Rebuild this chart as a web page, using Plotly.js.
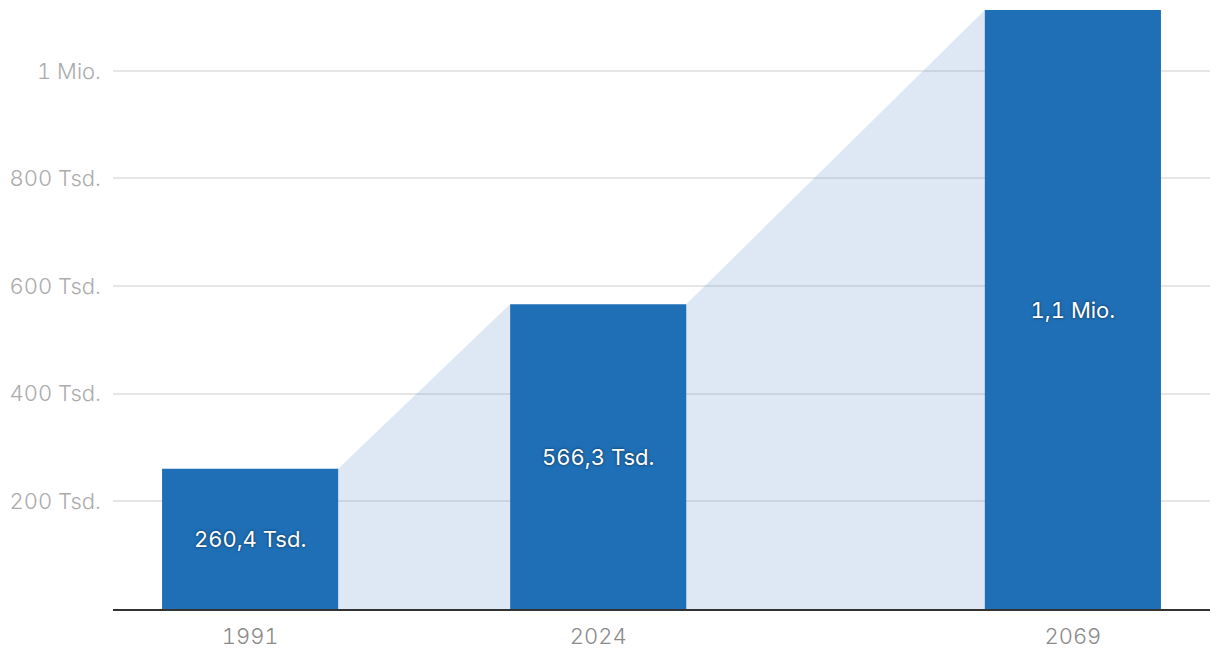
<!DOCTYPE html>
<html>
<head>
<meta charset="utf-8">
<script src="https://cdn.plot.ly/plotly-3.0.1.min.js"></script>
<style>
html,body{margin:0;padding:0;background:#fff;}
#chart{width:1220px;height:668px;}
#chart svg text{font-feature-settings:"tnum" 1;font-variant-numeric:tabular-nums;}
</style>
</head>
<body>
<div id="chart"></div>
<script>
const years = [1991, 2024, 2069];
const values = [260400, 566300, 1113000];
const barLabels = ['260,4 Tsd.', '566,3 Tsd.', '1,1 Mio.'];
const yTickVals = [200000, 400000, 600000, 800000, 1000000];
const yTickText = ['200 Tsd.', '400 Tsd.', '600 Tsd.', '800 Tsd.', '1 Mio.'];
const xTickText = ['1991', '2024', '2069'];

const barWidth = 16.7;
const hw = barWidth / 2;

const font = 'Inter, "Liberation Sans", Arial, sans-serif';

// Connecting areas in the gaps between consecutive bars
const traces = [];
for (let i = 0; i < years.length - 1; i++) {
  traces.push({
    type: 'scatter',
    mode: 'lines',
    x: [years[i] + hw, years[i + 1] - hw],
    y: [values[i], values[i + 1]],
    fill: 'tozeroy',
    fillcolor: 'rgba(85,140,200,0.2)',
    line: {width: 0, color: 'rgba(0,0,0,0)'},
    hoverinfo: 'skip',
    showlegend: false
  });
}

traces.push({
  type: 'bar',
  x: years,
  y: values,
  width: barWidth,
  marker: {color: '#1f6fb6', line: {width: 0}},
  text: barLabels,
  textposition: 'inside',
  insidetextanchor: 'middle',
  textangle: 0,
  constraintext: 'none',
  textfont: {family: font, size: 22, color: '#ffffff', shadow: '0px 0px 3px rgba(0,0,0,0.6)'},
  showlegend: false
});

const layout = {
  width: 1220,
  height: 668,
  margin: {l: 113, r: 10, t: 10, b: 59},
  paper_bgcolor: '#ffffff',
  plot_bgcolor: '#ffffff',
  showlegend: false,
  xaxis: {
    type: 'linear',
    range: [1978, 2082],
    tickvals: years,
    ticktext: xTickText,
    showgrid: false,
    zeroline: false,
    showline: true,
    linecolor: '#333333',
    linewidth: 2,
    ticks: '',
    ticklabelstandoff: 7,
    tickfont: {family: font, size: 22, color: '#8a8a8a', weight: 300},
    fixedrange: true
  },
  yaxis: {
    range: [0, 1113000],
    tickvals: yTickVals,
    ticktext: yTickText,
    showgrid: true,
    gridcolor: '#e6e6e6',
    gridwidth: 2,
    zeroline: false,
    showline: false,
    ticks: '',
    ticklabelstandoff: 11,
    tickfont: {family: font, size: 22, color: '#ababab', weight: 300},
    fixedrange: true
  }
};

Plotly.newPlot('chart', traces, layout, {displayModeBar: false, staticPlot: true});
</script>
</body>
</html>
